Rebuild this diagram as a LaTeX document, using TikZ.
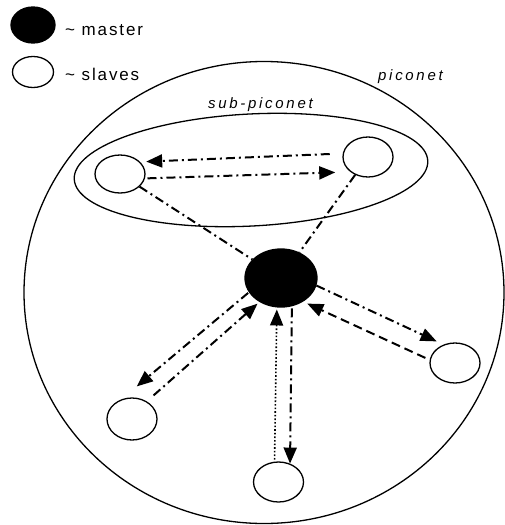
\documentclass[tikz,border=0pt]{standalone}
\usepackage{fontspec}
\setmainfont{Liberation Sans}
\newfontfamily\keyfont[LetterSpace=11]{Liberation Sans}
\newfontfamily\netfont[LetterSpace=18]{Liberation Sans}
\usepackage{tikz}
\usetikzlibrary{shapes.geometric, arrows.meta, positioning}
\tikzset{
    slavebox/.style={draw, ellipse, line width=1.3pt, fill=white, inner sep=0pt, minimum width=50pt, minimum height=40pt},
    masterbox/.style={slavebox, fill=black, minimum width=72pt, minimum height=58pt},
    netbox/.style={draw, ellipse, line width=1.3pt, inner sep=0pt},
    keylabel/.style={font=\keyfont\fontsize{17}{20}\selectfont, anchor=base west, inner sep=0pt},
    netlabel/.style={font=\netfont\itshape\fontsize{15}{18}\selectfont, anchor=base west, inner sep=0pt},
    linkarrow/.style={-{Triangle[length=16pt, width=13pt]}},
    ddline/.style={line width=2pt, dash pattern=on 9pt off 4pt on 2pt off 4pt},
    dashline/.style={line width=2pt, dash pattern=on 9pt off 5pt},
    dotline/.style={line width=1.6pt, dash pattern=on 1.6pt off 2pt},
}
\begin{document}
\begin{tikzpicture}[x=1pt, y=-1pt]
    \useasboundingbox (0,0) rectangle (505,525);

    % Legend
    \node[masterbox, minimum width=44pt, minimum height=36pt] (keymaster) at (33,25) {};
    \node[keylabel] (keymastertext) at (65,35) {\textasciitilde\ master};
    \node[slavebox, minimum width=41pt, minimum height=31pt] (keyslave) at (33,72) {};
    \node[keylabel] (keyslavetext) at (65,80) {\textasciitilde\ slaves};

    % Piconet and sub-piconet
    \node[netbox, minimum width=480pt, minimum height=462pt] (piconet) at (264,292.5) {};
    \node[netlabel] (piconettext) at (378,80) {piconet};
    \node[netbox, minimum width=354pt, minimum height=112pt, rotate=3] (subnet) at (251,170) {};
    \node[netlabel] (subnettext) at (208,108) {sub-piconet};

    % Master and slaves
    \node[masterbox] (master) at (281,278) {};
    \node[slavebox, minimum height=38pt] (subA) at (120,174) {};
    \node[slavebox] (subB) at (368,157) {};
    \node[slavebox, minimum height=42pt] (slaveW) at (132,419) {};
    \node[slavebox] (slaveS) at (278.5,482) {};
    \node[slavebox] (slaveE) at (455,363) {};

    % Links inside the sub-piconet
    \draw[ddline, linkarrow, shorten <=13pt, shorten >=6pt] (subB.172) -- (subA.31);
    \draw[ddline, linkarrow, shorten <=2.5pt, shorten >=15pt] (subA.350.5) -- (subB.220.5);
    \draw[ddline] (subA) -- (master);
    \draw[ddline] (subB) -- (master);

    % Links to the other slaves
    \draw[ddline, linkarrow, shorten <=1pt, shorten >=20pt] (master.204) -- (slaveW.118);
    \draw[ddline, linkarrow, shorten <=9pt, shorten >=2.5pt] (slaveW.50) -- (master.228);
    \draw[dotline, linkarrow, shorten <=2pt, shorten >=2pt] (slaveS.101.6) -- (master.262.6);
    \draw[ddline, linkarrow, shorten <=2pt] (master.291.8) -- (slaveS.58);
    \draw[ddline, linkarrow, shorten >=7.5pt] (master.348.4) -- (slaveE.122);
    \draw[dashline, linkarrow, shorten <=4.7pt, shorten >=4.6pt] (slaveE.173) -- (master.313.3);
\end{tikzpicture}
\end{document}
